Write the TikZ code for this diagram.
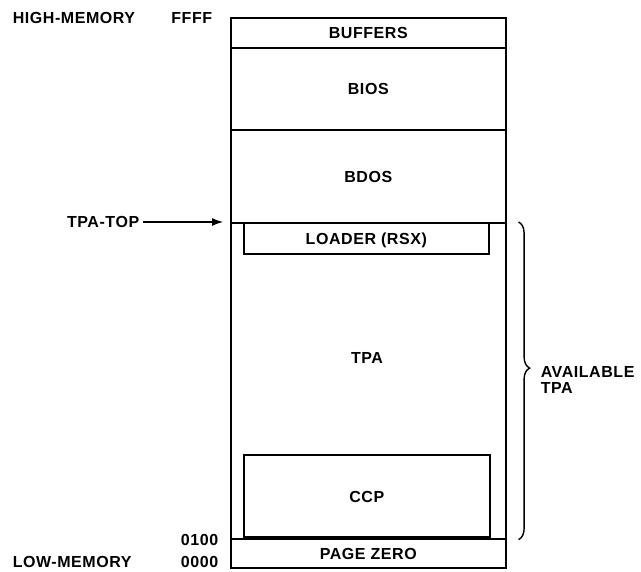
\documentclass[tikz,border=0pt]{standalone}
\usepackage{fontspec}
\setmainfont[LetterSpace=3.5]{Liberation Sans}
\usetikzlibrary{positioning,calc,arrows.meta,decorations.pathreplacing}

\begin{document}
\begin{tikzpicture}[x=1pt,y=-1pt,line width=1.6pt,
  font=\fontsize{16}{16}\selectfont\bfseries,
  mem/.style={draw,minimum width=275pt,inner sep=0pt,text height=12pt,text depth=0pt,anchor=north west},
  inbox/.style={draw,inner sep=0pt,text height=12pt,text depth=0pt},
  lbl/.style={inner sep=0pt,anchor=base},
  addr/.style={inner sep=0pt,anchor=base east}]
  \useasboundingbox (0,0) rectangle (641,572);
  % memory column, top to bottom
  \node[mem,minimum height=30pt] (buf) at (230,17) {BUFFERS};
  \node[mem,minimum height=82pt] (bios) at (230,47) {BIOS};
  \node[mem,minimum height=93pt] (bdos) at (230,129) {BDOS};
  \node[mem,minimum height=316pt] (tpa) at (230,222) {};
  \node[mem,minimum height=29pt] (pz) at (230,538) {PAGE ZERO};
  \node[lbl] (tpalbl) at (367,364) {TPA};
  % boxes inside the TPA
  \node[inbox,minimum width=245pt,minimum height=31pt,anchor=north west] (ldr) at (243,222) {LOADER (RSX)};
  \node[inbox,minimum width=246pt,minimum height=82pt,anchor=south west] (ccp) at (243,538) {CCP};
  % addresses
  \node[inner sep=0pt,anchor=base west] (hi) at (12,24) {HIGH-MEMORY};
  \node[addr] (ffff) at (213,24) {FFFF};
  \node[addr] (a100) at (219,545) {0100};
  \node[inner sep=0pt,anchor=base west] (lo) at (12,568) {LOW-MEMORY};
  \node[addr] (a000) at (219,568) {0000};
  % TPA-TOP pointer
  \node[addr,text height=12pt,text depth=0pt] (top) at (140,228) {TPA-TOP};
  \draw[line width=1.1pt,-{Latex[length=11pt,width=8pt]},shorten <=3pt,shorten >=7pt] (top.east) -- (tpa.north west);
  % available TPA
  \draw[line width=1.4pt,decorate,decoration={brace,amplitude=11pt,aspect=0.46}]
    ([xshift=12pt]tpa.north east) -- ([xshift=12pt]tpa.south east);
  \node[inner sep=0pt,anchor=north west,align=left] (avail) at (540,366) {AVAILABLE\\TPA};
\end{tikzpicture}
\end{document}
